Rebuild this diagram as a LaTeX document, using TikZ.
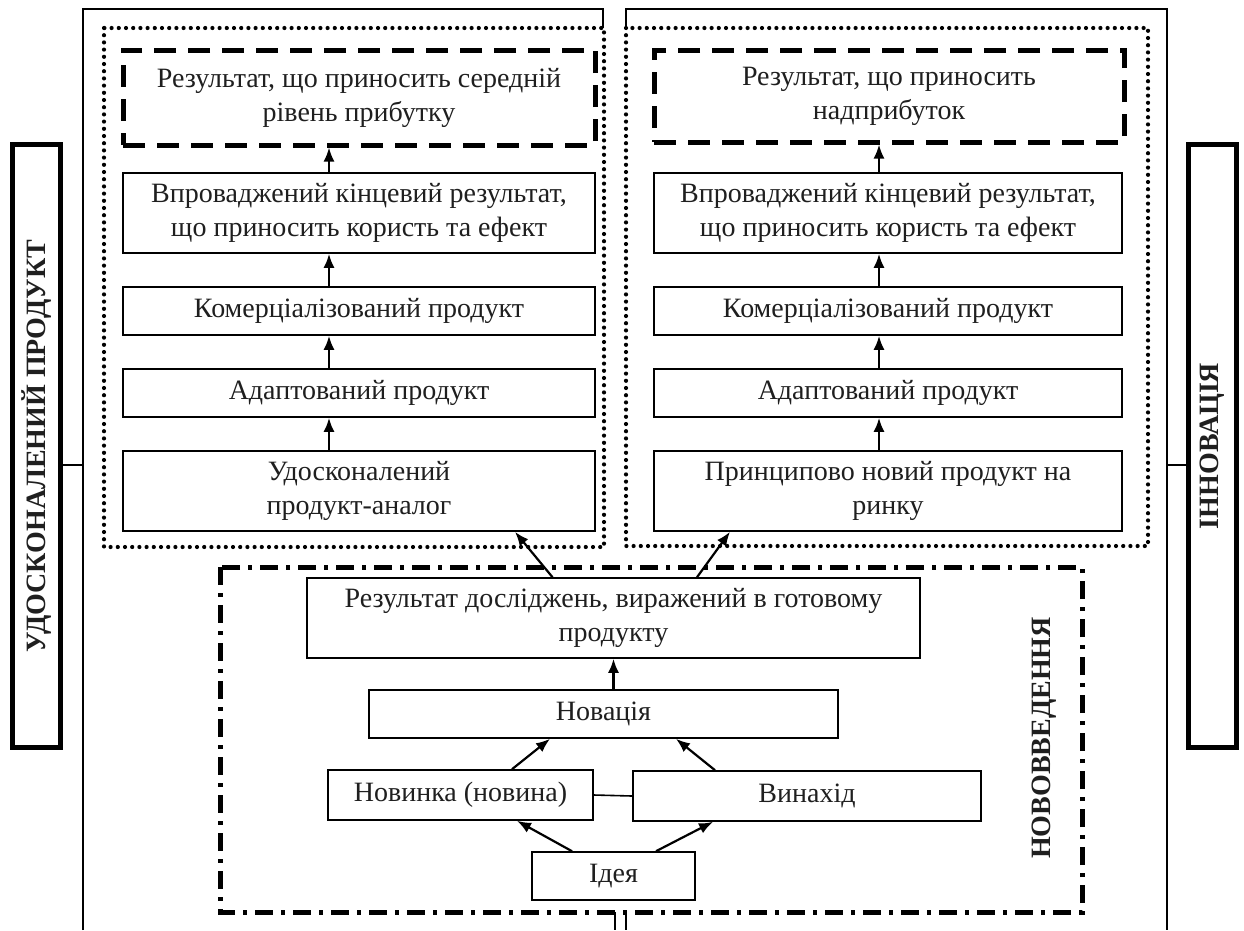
\documentclass[tikz,border=0pt]{standalone}
\usepackage{fontspec}
\setmainfont{Liberation Serif}
\usetikzlibrary{arrows.meta,calc}
\begin{document}
\begin{tikzpicture}[x=1pt,y=-1pt,
  every node/.style={font=\fontsize{28}{34}\selectfont, align=center, inner sep=0pt, text=black!88},
  box/.style={draw=black, line width=1.6pt, fill=white},
  dbox/.style={draw=black, line width=5pt, dash pattern=on 22pt off 12pt, fill=white},
  dotbox/.style={line width=4.2pt, dash pattern=on 0pt off 7.2pt, line cap=round},
  ddbox/.style={line width=5pt, dash pattern=on 18pt off 8pt on 4pt off 8pt},
  frame/.style={line width=2.2pt},
  lbl/.style={draw=black, line width=5pt, rotate=90, minimum width=603pt, minimum height=48pt, font=\fontsize{28}{34}\selectfont\bfseries},
  arr/.style={line width=2.2pt, -{Latex[length=14pt,width=11pt]}},
  conn/.style={line width=1.6pt}]
\useasboundingbox (0,0) rectangle (1244,930);
% frames
\draw[frame] (83,930) -- (83,9) -- (603,9) -- (603,28);
\draw[frame] (626,28) -- (626,9) -- (1167,9) -- (1167,930);
\draw[frame] (615,912) -- (615,930);
\draw[frame] (626,912) -- (626,930);
% dotted groups
\draw[dotbox] (104,28) rectangle (604,547);
\draw[dotbox] (626,28) rectangle (1148,546);
% dash-dot group
\draw[ddbox] (220,567) rectangle (1082,912);
% side labels
\node[lbl] (lp) at (36.5,446) {УДОСКОНАЛЕНИЙ ПРОДУКТ};
\node[lbl] (li) at (1212.5,446) {ІННОВАЦІЯ};
\coordinate (lfr) at (83,465);
\coordinate (rfr) at (1167,465);
\draw[conn] (lp.south |- lfr) -- (lfr);
\draw[conn] (rfr) -- (li.north |- rfr);
% left column
\node[dbox, minimum width=472, minimum height=95] (d1) at (359,97.5) {Результат, що приносить середній\\рівень прибутку};
\node[box, minimum width=472, minimum height=80] (v1) at (359,213) {Впроваджений кінцевий результат,\\що приносить користь та ефект};
\node[box, minimum width=472, minimum height=48] (k1) at (359,311) {Комерціалізований продукт};
\node[box, minimum width=472, minimum height=48] (a1) at (359,393) {Адаптований продукт};
\node[box, minimum width=472, minimum height=80] (u1) at (359,491) {Удосконалений\\продукт-аналог};
% right column
\node[dbox, minimum width=470, minimum height=92] (d2) at (889,96) {Результат, що приносить\\надприбуток};
\node[box, minimum width=468, minimum height=80] (v2) at (888,213) {Впроваджений кінцевий результат,\\що приносить користь та ефект};
\node[box, minimum width=468, minimum height=48] (k2) at (888,311) {Комерціалізований продукт};
\node[box, minimum width=468, minimum height=48] (a2) at (888,393) {Адаптований продукт};
\node[box, minimum width=468, minimum height=80] (p2) at (888,491) {Принципово новий продукт на\\ринку};
% bottom group
\node[box, minimum width=613, minimum height=80] (rd) at (613.5,618) {Результат досліджень, виражений в готовому\\продукту};
\node[box, minimum width=469, minimum height=48] (nv) at (603.5,714) {Новація};
\node[box, minimum width=265, minimum height=50] (nk) at (460.5,795) {Новинка (новина)};
\node[box, minimum width=348, minimum height=50] (vn) at (807,796) {Винахід};
\node[box, minimum width=163, minimum height=48] (id) at (613.5,876) {Ідея};
\node[rotate=90, font=\fontsize{28}{34}\selectfont\bfseries] (nvd) at (1044,738) {НОВОВВЕДЕННЯ};
% arrows
\coordinate (axl) at (329,0);
\coordinate (axr) at (879,0);
\draw[arr] (v1.north -| axl) -- (d1.south -| axl);
\draw[arr] (k1.north -| axl) -- (v1.south -| axl);
\draw[arr] (a1.north -| axl) -- (k1.south -| axl);
\draw[arr] (u1.north -| axl) -- (a1.south -| axl);
\draw[arr] (v2.north -| axr) -- (d2.south -| axr);
\draw[arr] (k2.north -| axr) -- (v2.south -| axr);
\draw[arr] (a2.north -| axr) -- (k2.south -| axr);
\draw[arr] (p2.north -| axr) -- (a2.south -| axr);
\draw[arr] ($(rd.north)+(-61,0)$) -- ($(u1.south)+(156,0)$);
\draw[arr] ($(rd.north)+(83.5,0)$) -- ($(p2.south)+(-158,0)$);
\draw[arr] (nv.north -| rd.south) -- (rd.south);
\draw[arr] ($(nk.north)+(51.5,0)$) -- ($(nv.south)+(-53.5,0)$);
\draw[arr] ($(vn.north)+(-92,0)$) -- ($(nv.south)+(72.5,0)$);
\draw[arr] ($(id.north)+(-41.5,0)$) -- ($(nk.south)+(56.5,0)$);
\draw[arr] ($(id.north)+(42.5,0)$) -- ($(vn.south)+(-94,0)$);
\draw[conn] (nk.east) -- (vn.west);
\end{tikzpicture}
\end{document}
